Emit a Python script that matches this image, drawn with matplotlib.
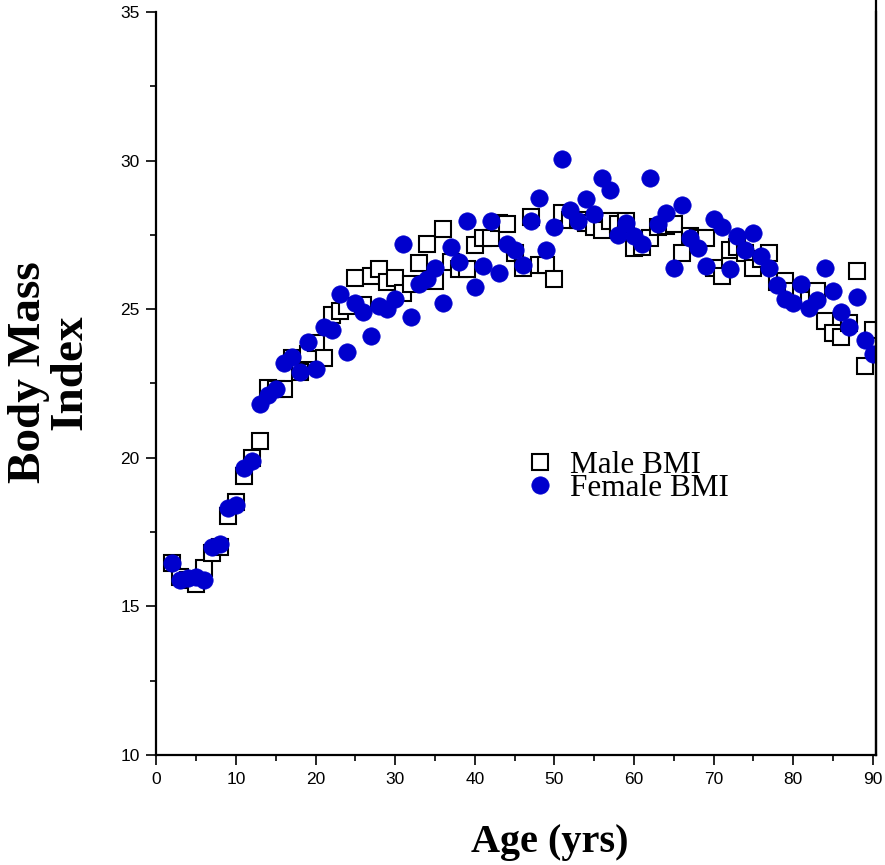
import numpy as np
import matplotlib
matplotlib.use("Agg")
from matplotlib import pyplot as plt
from matplotlib.ticker import MultipleLocator

ages = np.arange(2, 91)

male_bmi = [16.45, 16.0, 15.9, 15.75, 16.3, 16.8, 17.0, 18.05, 18.5, 19.4,
            20.0, 20.55, 22.35, 22.3, 22.3, 23.35, 22.9, 23.5, 23.85, 23.35,
            24.8, 24.95, 25.1, 26.05, 25.15, 26.1, 26.35, 25.9, 26.05, 25.55,
            25.85, 26.55, 27.2, 25.95, 27.7, 26.6, 26.35, 26.35, 27.15, 27.4,
            27.4, 27.9, 27.85, 26.9, 26.4, 28.1, 26.5, 26.5, 26.0, 28.25,
            28.0, 28.0, 27.9, 27.75, 27.65, 27.95, 27.85, 27.95, 27.05, 27.1,
            27.4, 27.75, 27.8, 27.85, 26.9, 27.45, 27.4, 27.4, 26.4, 26.1,
            27.0, 27.1, 26.9, 26.4, 26.7, 26.9, 25.9, 25.95, 25.6, 25.55,
            25.3, 25.6, 24.6, 24.2, 24.05, 24.55, 26.3, 23.1, 24.3]

female_bmi = [16.45, 15.9, 15.95, 16.0, 15.9, 17.0, 17.1, 18.3, 18.4, 19.65,
              19.9, 21.8, 22.1, 22.3, 23.2, 23.4, 22.9, 23.9, 23.0, 24.4,
              24.3, 25.5, 23.55, 25.2, 24.9, 24.1, 25.1, 25.0, 25.35, 27.2,
              24.75, 25.85, 26.0, 26.4, 25.2, 27.1, 26.6, 27.95, 25.75, 26.45,
              27.95, 26.2, 27.2, 27.0, 26.5, 27.95, 28.75, 27.0, 27.75, 30.05,
              28.35, 27.95, 28.7, 28.2, 29.4, 29.0, 27.5, 27.9, 27.45, 27.2,
              29.4, 27.85, 28.25, 26.4, 28.5, 27.4, 27.05, 26.45, 28.05, 27.75,
              26.35, 27.45, 27.0, 27.55, 26.8, 26.4, 25.8, 25.35, 25.2, 25.85,
              25.05, 25.3, 26.4, 25.6, 24.9, 24.4, 25.4, 23.95, 23.5]

serif = ["Liberation Serif", "DejaVu Serif"]
sans = ["Liberation Sans", "DejaVu Sans"]

fig = plt.figure(figsize=(8.85, 8.65), dpi=100)
ax = fig.add_axes([0.1768, 0.1272, 0.813, 0.859])

ax.plot(ages, male_bmi, ls="none", marker="s", ms=11.5, mfc="white",
        mec="black", mew=1.5, label="Male BMI")
ax.plot(ages, female_bmi, ls="none", marker="o", ms=12.5, mfc="#0000cd",
        mec="#0000cd", mew=0.5, label="Female BMI")

ax.set_xlim(0, 90.4)
ax.set_ylim(10, 35)
ax.xaxis.set_major_locator(MultipleLocator(10))
ax.xaxis.set_minor_locator(MultipleLocator(5))
ax.yaxis.set_major_locator(MultipleLocator(5))
ax.yaxis.set_minor_locator(MultipleLocator(2.5))

ax.spines["top"].set_visible(False)
for side in ("left", "bottom", "right"):
    ax.spines[side].set_linewidth(1.6)
ax.tick_params(which="major", direction="out", length=7, width=1.2,
               labelsize=12.5, pad=5)
ax.tick_params(which="minor", direction="out", length=4, width=1.2)
for lab in ax.get_xticklabels() + ax.get_yticklabels():
    lab.set_family(sans)

# right frame line runs up past the top of the axes
fig.add_artist(plt.Line2D([0.9898, 0.9898], [0.1272, 1.0], color="black",
                          lw=1.6, transform=fig.transFigure))

ax.set_xlabel("Age (yrs)", family=serif, fontweight="bold", fontsize=29)
ax.xaxis.set_label_coords(0.547, -0.093)
ax.set_ylabel("Body Mass\nIndex", family=serif, fontweight="bold",
              fontsize=34, linespacing=1.0)
ax.yaxis.set_label_coords(-0.09, 0.515)

ax.legend(loc="upper left", bbox_to_anchor=(0.494, 0.43), frameon=False,
          prop={"family": serif, "size": 22.5}, labelspacing=-0.2,
          handletextpad=0.55, handlelength=0.8, borderpad=0)

fig.savefig("out.png", dpi=100)
